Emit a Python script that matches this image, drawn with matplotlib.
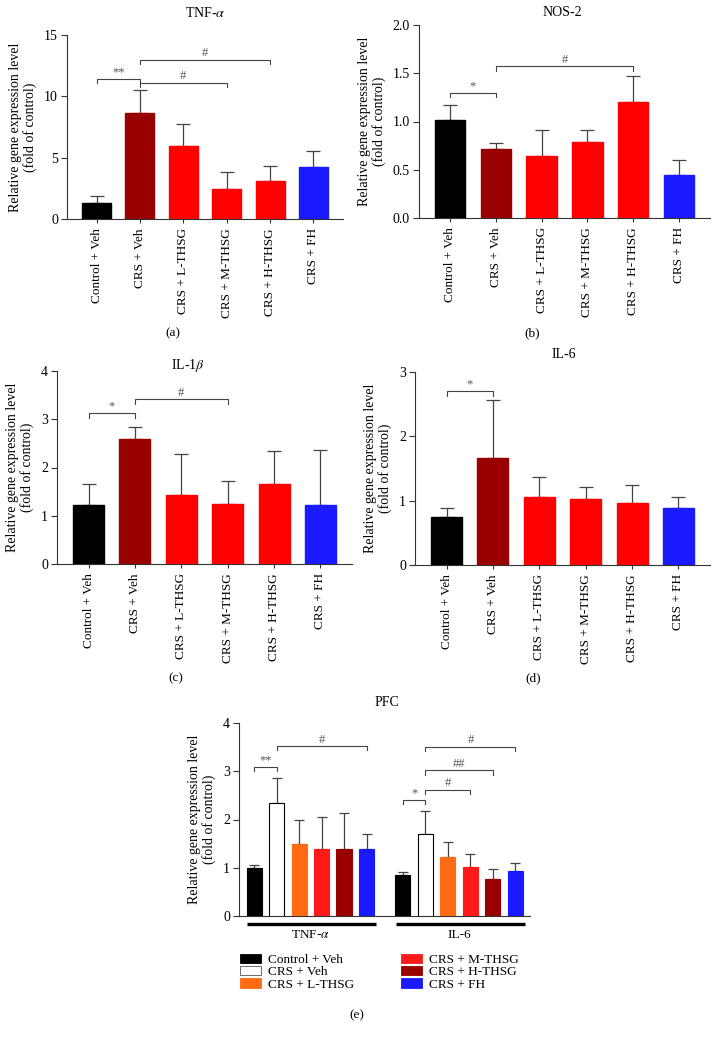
import numpy as np
import matplotlib
matplotlib.use("Agg")
import matplotlib.pyplot as plt
from matplotlib.patches import Patch

plt.rcParams['font.family'] = ['Liberation Serif', 'DejaVu Serif']
plt.rcParams['mathtext.fontset'] = 'stix'
plt.rcParams['axes.edgecolor'] = '#333333'
plt.rcParams['axes.linewidth'] = 0.8
plt.rcParams['xtick.color'] = '#333333'
plt.rcParams['ytick.color'] = '#333333'
plt.rcParams['xtick.labelcolor'] = 'black'
plt.rcParams['ytick.labelcolor'] = 'black'

# groups
groups = ["Control + Veh", "CRS + Veh", "CRS + L-THSG",
          "CRS + M-THSG", "CRS + H-THSG", "CRS + FH"]
bar_colors = ["#000000", "#990000", "#ff0000", "#ff0000", "#ff0000", "#1a1aff"]

# (a) TNF-alpha
tnf_mean = [1.30, 8.64, 5.98, 2.47, 3.10, 4.24]
tnf_sem = [0.60, 1.90, 1.79, 1.39, 1.19, 1.33]
tnf_sig = [(0, 1, 11.41, "**"), (1, 3, 11.09, "#"), (1, 4, 12.96, "#")]

# (b) NOS-2
nos_mean = [1.02, 0.72, 0.64, 0.79, 1.20, 0.45]
nos_sem = [0.15, 0.06, 0.27, 0.12, 0.27, 0.15]
nos_sig = [(0, 1, 1.30, "*"), (1, 4, 1.57, "#")]

# (c) IL-1beta
il1_mean = [1.22, 2.60, 1.43, 1.24, 1.65, 1.22]
il1_sem = [0.44, 0.23, 0.84, 0.49, 0.70, 1.15]
il1_sig = [(0, 1, 3.12, "*"), (1, 3, 3.41, "#")]

# (d) IL-6
il6_mean = [0.74, 1.66, 1.06, 1.02, 0.96, 0.88]
il6_sem = [0.14, 0.91, 0.31, 0.19, 0.29, 0.17]
il6_sig = [(0, 1, 2.70, "*")]

# (e) PFC
pfc_colors = ["#000000", "#ffffff", "#ff6a13", "#ff1a1a", "#990000", "#1a1aff"]
pfc_tnf_mean = [1.00, 2.34, 1.50, 1.38, 1.39, 1.39]
pfc_tnf_sem = [0.06, 0.52, 0.49, 0.67, 0.75, 0.31]
pfc_il6_mean = [0.855, 1.70, 1.23, 1.01, 0.77, 0.94]
pfc_il6_sem = [0.055, 0.47, 0.31, 0.28, 0.21, 0.15]
pfc_genes = ["TNF-$\\alpha$", "IL-6"]
pfc_sig = [(0, 1, 3.09, "**"), (1, 5, 3.52, "#"),
           (6, 7, 2.41, "*"), (7, 9, 2.61, "#"), (7, 10, 3.02, "##"), (7, 11, 3.50, "#")]

W, H = 719, 1040
fig = plt.figure(figsize=(W / 100, H / 100), dpi=100)


def box(l, r, t, b):
    return [l / W, 1 - b / H, (r - l) / W, (b - t) / H]


def brackets(ax, x, sig, ymax):
    h = 0.022 * ymax
    for i, j, y, txt in sig:
        ax.plot([x[i], x[i], x[j], x[j]], [y - h, y, y, y - h],
                color="#444444", lw=0.8, zorder=4, clip_on=False)
        ax.text((x[i] + x[j]) / 2, y + 0.15 * h, txt, ha="center", va="bottom",
                fontsize=9, color="#555555")


def style(ax, ymax, step, fmt):
    for s in ["top", "right"]:
        ax.spines[s].set_visible(False)
    ax.set_ylim(0, ymax)
    ticks = np.arange(0, ymax + step / 2, step)
    ax.set_yticks(ticks)
    ax.set_yticklabels([fmt.format(t) for t in ticks], fontsize=10)
    ax.tick_params(axis="y", length=4, width=0.8, pad=2.5)
    ax.set_ylabel("Relative gene expression level\n(fold of control)",
                  fontsize=10, linespacing=1.1, labelpad=5)


def panel(rect, mean, sem, sig, ymax, step, fmt):
    ax = fig.add_axes(rect)
    x = np.arange(len(mean))
    ax.bar(x, mean, width=0.67, color=bar_colors, edgecolor=bar_colors, zorder=3)
    ax.errorbar(x, mean, yerr=[np.zeros(len(sem)), sem], fmt="none",
                ecolor="#444444", elinewidth=0.9, capsize=5, capthick=0.9, zorder=2)
    ax.set_xlim(-0.68, len(mean) - 1 + 0.68)
    ax.set_xticks(x)
    ax.set_xticklabels(groups, rotation=90, fontsize=9.5)
    ax.tick_params(axis="x", length=3, width=0.8)
    style(ax, ymax, step, fmt)
    brackets(ax, x, sig, ymax)
    return ax


panel(box(67, 343, 35, 219), tnf_mean, tnf_sem, tnf_sig, 15, 5, "{:.0f}")
panel(box(419, 710, 25, 218), nos_mean, nos_sem, nos_sig, 2.0, 0.5, "{:.1f}")
panel(box(57, 352, 371, 564), il1_mean, il1_sem, il1_sig, 4, 1, "{:.0f}")
panel(box(415, 710, 372, 565), il6_mean, il6_sem, il6_sig, 3, 1, "{:.0f}")

# (e) PFC grouped bars
ax = fig.add_axes(box(239, 530, 723, 916))
x1 = np.arange(6)
x2 = np.arange(6) + 6.62
for xs, m, s in [(x1, pfc_tnf_mean, pfc_tnf_sem), (x2, pfc_il6_mean, pfc_il6_sem)]:
    edges = ["#000000" if c == "#ffffff" else c for c in pfc_colors]
    ax.bar(xs, m, width=0.67, color=pfc_colors, edgecolor=edges, linewidth=0.8, zorder=3)
    ax.errorbar(xs, m, yerr=[np.zeros(6), s], fmt="none", ecolor="#444444",
                elinewidth=0.9, capsize=3.5, capthick=0.9, zorder=2)
ax.set_xlim(-0.67, 12.27)
ax.set_xticks([])
style(ax, 4, 1, "{:.0f}")
brackets(ax, np.concatenate([x1, x2]), pfc_sig, 4)
trans = ax.get_xaxis_transform()
for xs, g in [(x1, pfc_genes[0]), (x2, pfc_genes[1])]:
    ax.plot([xs[0] - 0.31, xs[-1] + 0.42], [-0.041, -0.041], color="black", lw=2.4,
            transform=trans, clip_on=False, solid_capstyle="butt")
    ax.text((xs[0] + xs[-1]) / 2, -0.1, g, transform=trans, ha="center", va="center",
            fontsize=9.5)

handles = []
for c in pfc_colors:
    handles.append(Patch(facecolor=c, edgecolor="#555555" if c == "#ffffff" else c,
                         linewidth=0.6))
fig.legend(handles, groups, ncol=2, loc="upper left",
           bbox_to_anchor=(240 / W, 1 - 954 / H), frameon=False, borderpad=0,
           borderaxespad=0, handlelength=1.6, handleheight=0.7, handletextpad=0.5,
           columnspacing=3.6, labelspacing=0.0, fontsize=9.5)

# titles and panel letters
titles = [("TNF-$\\alpha$", 205, 13), ("NOS-2", 562, 12), ("IL-1$\\beta$", 188, 365),
          ("IL-6", 564, 355), ("PFC", 387, 702)]
for t, px, py in titles:
    fig.text(px / W, 1 - py / H, t, ha="center", va="center", fontsize=10)
letters = [("(a)", 173, 333), ("(b)", 532, 333), ("(c)", 176, 678),
           ("(d)", 533, 678), ("(e)", 357, 1015)]
for t, px, py in letters:
    fig.text(px / W, 1 - py / H, t, ha="center", va="center", fontsize=9.5)

fig.savefig("out.png", dpi=100)
